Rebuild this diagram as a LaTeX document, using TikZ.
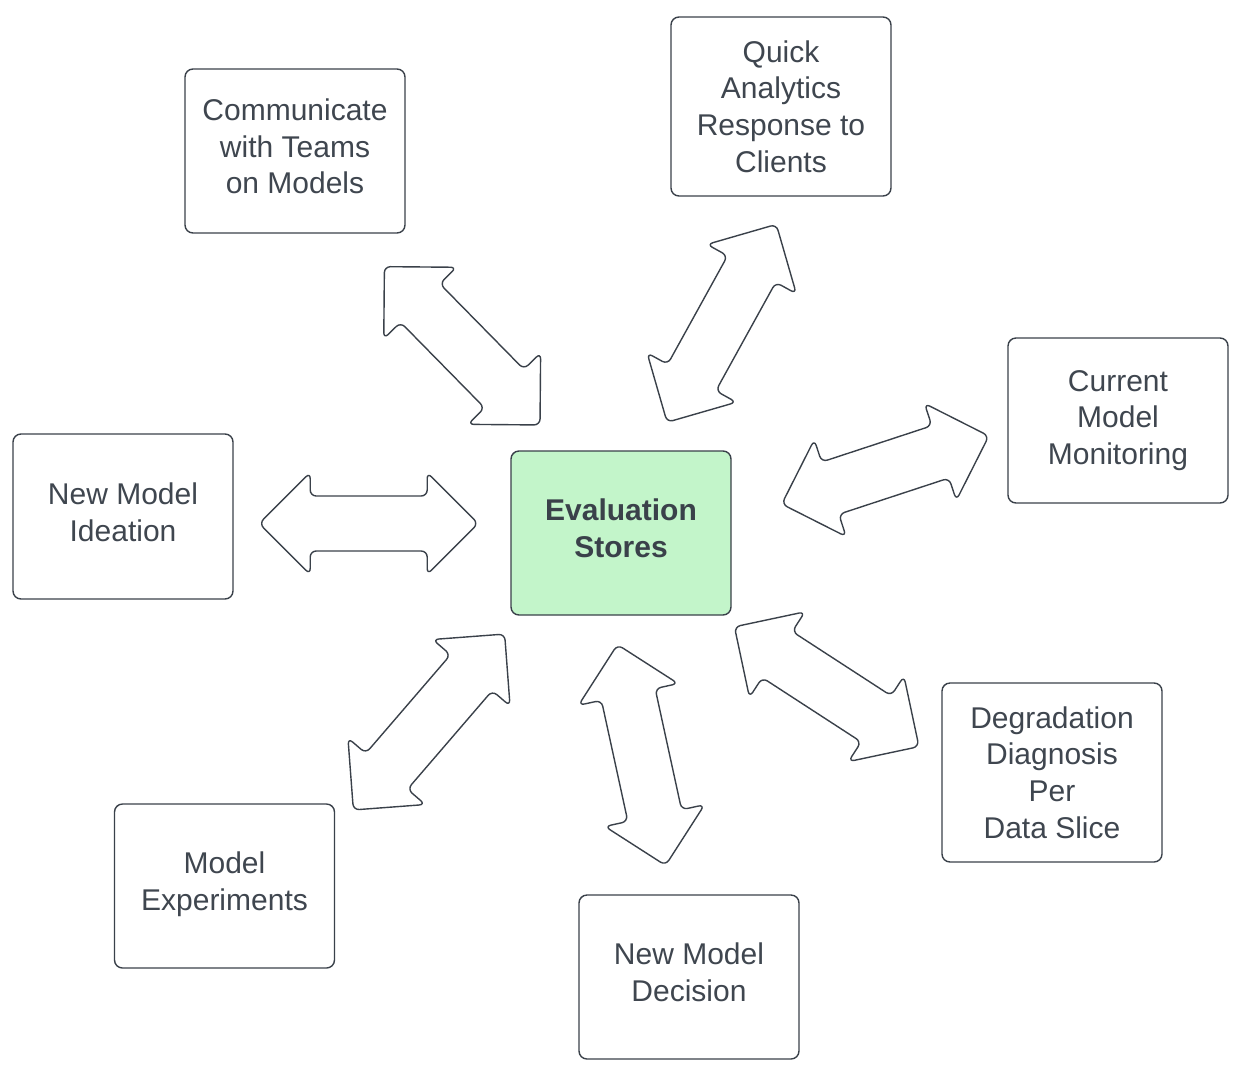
\documentclass[tikz,border=0pt]{standalone}
\usepackage{fontspec}
\setmainfont{Liberation Sans}
\definecolor{ink}{HTML}{3A414A}
\definecolor{txt}{HTML}{3F464F}
\definecolor{evalgreen}{HTML}{C3F5CA}
\tikzset{
  box/.style={draw=ink, line width=1.4pt, rounded corners=8pt, minimum width=220pt, inner sep=0pt},
  boxtext/.style={align=center, text=txt, font=\fontsize{30}{36.7}\selectfont, inner sep=0pt, yshift=4.5pt},
  arrowshape/.style={draw=ink, line width=1.4pt, rounded corners=6pt, line join=round},
}
\newcommand\dblarr[4]{%
  \begin{scope}[shift={(#1,#2)}, rotate=#3]
    \pgfmathsetmacro\hl{#4/2}
    \draw[arrowshape] (0,27.5) -- (\hl-51,27.5) -- (\hl-51,51) -- (\hl,0)
      -- (\hl-51,-51) -- (\hl-51,-27.5) -- (-\hl+51,-27.5) -- (-\hl+51,-51)
      -- (-\hl,0) -- (-\hl+51,51) -- (-\hl+51,27.5) -- cycle;
  \end{scope}}
\begin{document}
\begin{tikzpicture}[x=1pt,y=-1pt]
\useasboundingbox (0,0) rectangle (1240,1072);
% boxes
\node[box, minimum height=164pt] (comm) at (295,151) {};
\node[box, minimum height=179pt] (quick) at (781,106.5) {};
\node[box, minimum height=165pt] (current) at (1118,420.5) {};
\node[box, minimum height=165pt] (ideation) at (123,516.5) {};
\node[box, minimum height=164pt, fill=evalgreen] (eval) at (621,533) {};
\node[box, minimum height=164pt] (exper) at (224.5,886) {};
\node[box, minimum height=164pt] (decision) at (689,977) {};
\node[box, minimum height=179pt] (degrad) at (1052,772.5) {};
% texts
\node[boxtext] (commtxt) at (comm.center) {Communicate\\with Teams\\on Models};
\node[boxtext, yshift=-4.5pt] (quicktxt) at (quick.center) {Quick\\Analytics\\Response to\\Clients};
\node[boxtext, yshift=-4.5pt] (currenttxt) at (current.center) {Current\\Model\\Monitoring};
\node[boxtext] (ideationtxt) at (ideation.center) {New Model\\Ideation};
\node[boxtext, text=ink, font=\fontsize{30}{36.7}\selectfont\bfseries] (evaltxt) at (eval.center) {Evaluation\\Stores};
\node[boxtext, yshift=-2.5pt] (expertxt) at (exper.center) {Model\\Experiments};
\node[boxtext] (decisiontxt) at (decision.center) {New Model\\Decision};
\node[boxtext, yshift=-4.5pt] (degradtxt) at (degrad.center) {Degradation\\Diagnosis\\Per\\Data Slice};
% double arrows
\dblarr{368.7}{523.5}{0}{219}
\dblarr{462.2}{345.8}{-45.5}{222}
\dblarr{721.7}{323.3}{61.1}{226}
\dblarr{885.3}{470}{18.2}{218}
\dblarr{429}{722}{49.3}{232}
\dblarr{641.5}{755}{-77.7}{226}
\dblarr{826.7}{686.7}{-33}{220}
\end{tikzpicture}
\end{document}
